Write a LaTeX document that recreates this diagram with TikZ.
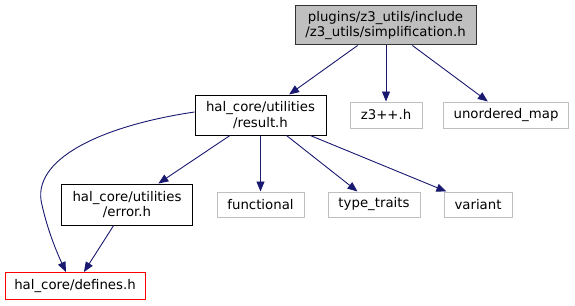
\documentclass[tikz,border=0pt]{standalone}
\usepackage{fontspec}
\setmainfont{DejaVu Sans}
\usetikzlibrary{arrows.meta}
\definecolor{edgeblue}{HTML}{191970}
\definecolor{sysgray}{HTML}{BFBFBF}
\definecolor{topfill}{HTML}{BFBFBF}
\begin{document}
\begin{tikzpicture}[x=1pt,y=-1pt,
  base/.style={rectangle,inner sep=0pt,align=center,font=\fontsize{13.3}{15.5}\selectfont,line width=1pt},
  mainbox/.style={base,draw=black},
  sysbox/.style={base,draw=sysgray},
  topbox/.style={base,draw=black!80,fill=topfill},
  redbox/.style={base,draw=red},
  edge/.style={draw=edgeblue,line width=0.9pt,-{Triangle[length=10pt,width=8pt]}}]
\useasboundingbox (0,0) rectangle (575,305);
\node[topbox,minimum width=181pt,minimum height=39pt] (top) at (385.5,25.5) {plugins/z3\_utils/include\\/z3\_utils/simplification.h};
\node[mainbox,minimum width=131pt,minimum height=40pt] (result) at (260.5,115) {hal\_core/utilities\\/result.h};
\node[sysbox,minimum width=72pt,minimum height=26pt] (z3) at (386,115) {z3++.h};
\node[sysbox,minimum width=125pt,minimum height=26pt] (umap) at (506,115) {unordered\_map};
\node[mainbox,minimum width=131pt,minimum height=41pt] (error) at (127,204.5) {hal\_core/utilities\\/error.h};
\node[sysbox,minimum width=87pt,minimum height=25pt] (functional) at (260.5,204.5) {functional};
\node[sysbox,minimum width=92pt,minimum height=25pt] (traits) at (374,204.5) {type\_traits};
\node[sysbox,minimum width=68pt,minimum height=25pt] (variant) at (478,204.5) {variant};
\node[redbox,minimum width=140pt,minimum height=27pt] (defines) at (75,286) {hal\_core/defines.h};
\draw[edge] (top) -- (result);
\draw[edge] (top.south -| z3.north) -- (z3.north);
\draw[edge] (top) -- (umap);
\draw[edge] (result) -- (error);
\draw[edge] (result.south -| functional.north) -- (functional.north);
\draw[edge] (result) -- (traits);
\draw[edge] (result) -- (variant);
\draw[edge] (error) -- (defines);
\draw[edge] ([yshift=3pt]result.west) .. controls (100,126) and (30,160) .. (42,205) .. controls (48,232) and (58,255) .. ([xshift=-9pt]defines.north);
\end{tikzpicture}
\end{document}
